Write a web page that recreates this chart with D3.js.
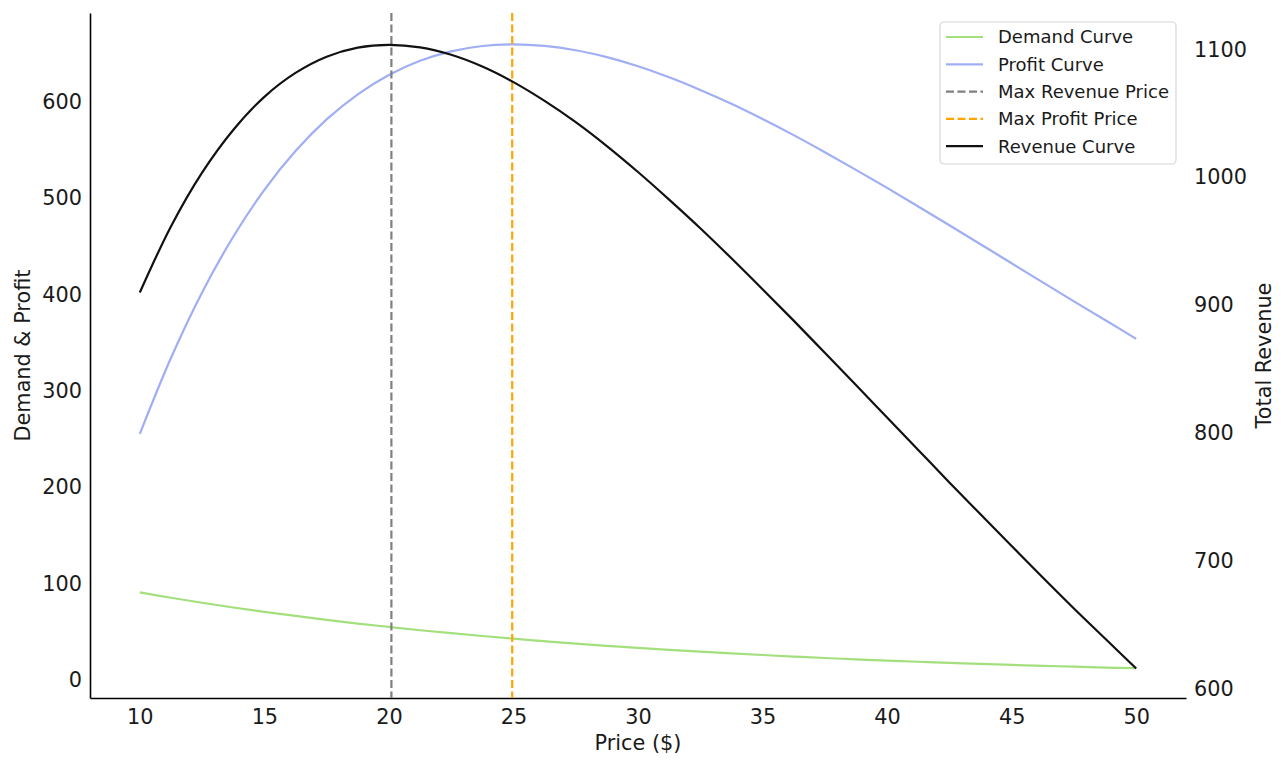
<!DOCTYPE html>
<html>
<head>
<meta charset="utf-8">
<script src="https://cdn.jsdelivr.net/npm/d3@7"></script>
<style>
  body { margin: 0; background: #fff; }
  text { font-family: "DejaVu Sans", sans-serif; fill: #1a1a1a; }
</style>
</head>
<body>
<svg id="chart"></svg>
<script>
// price points
const prices = [10, 11.25, 12.5, 13.75, 15, 16.25, 17.5, 18.75, 20, 21.25, 22.5, 23.75, 25, 26.25,
  27.5, 28.75, 30, 31.25, 32.5, 33.75, 35, 36.25, 37.5, 38.75, 40, 41.25, 42.5, 43.75, 45, 46.25,
  47.5, 48.75, 50];

// demand (left axis)
const demand = [91.0, 85.5, 80.3, 75.4, 70.9, 66.6, 62.5, 58.7, 55.2, 51.8, 48.7, 45.8, 43.0, 40.4,
  37.9, 35.6, 33.5, 31.4, 29.5, 27.8, 26.1, 24.5, 23.0, 21.6, 20.3, 19.1, 17.9, 16.8, 15.8, 14.9,
  14.0, 13.1, 12.4];

// profit (left axis)
const profit = [255.5, 334.2, 402.2, 459.9, 508.6, 548.8, 581.6, 607.7, 627.7, 642.4, 652.2, 657.8,
  659.5, 657.9, 653.4, 646.2, 636.8, 625.3, 612.2, 597.8, 582.0, 565.3, 547.6, 529.3, 510.6, 491.3,
  471.8, 452.2, 432.4, 412.6, 392.9, 373.6, 354.0];

// total revenue (right axis)
const revenue = [909.8, 961.5, 1003.6, 1037.0, 1062.9, 1081.6, 1094.3, 1101.4, 1103.6, 1101.6, 1095.8,
  1086.6, 1074.4, 1059.7, 1043.1, 1024.4, 1004.1, 982.5, 960.1, 936.6, 912.4, 887.8, 862.6, 837.4,
  812.0, 786.6, 761.2, 736.3, 711.5, 686.8, 662.6, 639.1, 615.6];

// vertical markers
const maxRevenuePrice = 20.1;
const maxProfitPrice = 24.95;

// tick values
const xTicks = [10, 15, 20, 25, 30, 35, 40, 45, 50];
const leftTicks = [0, 100, 200, 300, 400, 500, 600];
const rightTicks = [600, 700, 800, 900, 1000, 1100];

const width = 1288, height = 768;
const margin = { top: 13, right: 102, bottom: 70, left: 90 };

const svg = d3.select("#chart")
  .attr("width", width)
  .attr("height", height);

// scales
const x = d3.scaleLinear().domain([8, 52]).range([margin.left, width - margin.right]);
const yLeft = d3.scaleLinear().domain([-18.5, 692]).range([height - margin.bottom, margin.top]);
const yRight = d3.scaleLinear().domain([592.5, 1128.5]).range([height - margin.bottom, margin.top]);

const rows = prices.map((p, i) => ({ p, demand: demand[i], profit: profit[i], revenue: revenue[i] }));

// axes
const xAxis = svg.append("g")
  .attr("transform", `translate(0,${height - margin.bottom})`)
  .call(d3.axisBottom(x).tickValues(xTicks).tickSize(0).tickPadding(11));

const leftAxis = svg.append("g")
  .attr("transform", `translate(${margin.left},0)`)
  .call(d3.axisLeft(yLeft).tickValues(leftTicks).tickSize(0).tickPadding(8));

const rightAxis = svg.append("g")
  .attr("transform", `translate(${width - margin.right},0)`)
  .call(d3.axisRight(yRight).tickValues(rightTicks).tickFormat(d3.format("d")).tickSize(0).tickPadding(8));

[xAxis, leftAxis, rightAxis].forEach(g => {
  g.selectAll("text").style("font-size", "20.8px").attr("fill", "#1a1a1a");
  g.select(".domain").attr("stroke", "#000").attr("stroke-width", 1.6);
});
rightAxis.select(".domain").remove();

// axis labels
svg.append("text")
  .attr("x", (margin.left + width - margin.right) / 2)
  .attr("y", 750)
  .attr("text-anchor", "middle")
  .style("font-size", "20.8px")
  .text("Price ($)");

svg.append("text")
  .attr("transform", `translate(30,${(margin.top + height - margin.bottom) / 2}) rotate(-90)`)
  .attr("text-anchor", "middle")
  .style("font-size", "20.8px")
  .text("Demand & Profit");

svg.append("text")
  .attr("transform", `translate(1271,${(margin.top + height - margin.bottom) / 2}) rotate(-90)`)
  .attr("text-anchor", "middle")
  .style("font-size", "20.8px")
  .text("Total Revenue");

// lines
const curve = d3.curveCatmullRom;
const demandLine = d3.line().x(d => x(d.p)).y(d => yLeft(d.demand)).curve(curve);
const profitLine = d3.line().x(d => x(d.p)).y(d => yLeft(d.profit)).curve(curve);
const revenueLine = d3.line().x(d => x(d.p)).y(d => yRight(d.revenue)).curve(curve);

svg.append("path").datum(rows)
  .attr("d", demandLine)
  .attr("fill", "none").attr("stroke", "#a3e07d").attr("stroke-width", 2.2);

svg.append("path").datum(rows)
  .attr("d", profitLine)
  .attr("fill", "none").attr("stroke", "#a0aef3").attr("stroke-width", 2.2);

// vertical dashed markers
svg.append("line")
  .attr("x1", x(maxRevenuePrice)).attr("x2", x(maxRevenuePrice))
  .attr("y1", margin.top).attr("y2", height - margin.bottom)
  .attr("stroke", "#808080").attr("stroke-width", 2.2).attr("stroke-dasharray", "8,3.5");

svg.append("line")
  .attr("x1", x(maxProfitPrice)).attr("x2", x(maxProfitPrice))
  .attr("y1", margin.top).attr("y2", height - margin.bottom)
  .attr("stroke", "#ffa500").attr("stroke-width", 2.2).attr("stroke-dasharray", "8,3.5");

svg.append("path").datum(rows)
  .attr("d", revenueLine)
  .attr("fill", "none").attr("stroke", "#111").attr("stroke-width", 2.2);

// legend
const legendItems = [
  { label: "Demand Curve", color: "#a3e07d", dash: null },
  { label: "Profit Curve", color: "#a0aef3", dash: null },
  { label: "Max Revenue Price", color: "#808080", dash: "8,3.5" },
  { label: "Max Profit Price", color: "#ffa500", dash: "8,3.5" },
  { label: "Revenue Curve", color: "#111", dash: null }
];

const legend = svg.append("g").attr("transform", "translate(940,22)");
legend.append("rect")
  .attr("width", 236).attr("height", 142)
  .attr("rx", 4)
  .attr("fill", "#fff").attr("fill-opacity", 0.8)
  .attr("stroke", "#d6d6d6").attr("stroke-width", 1.2);

const item = legend.selectAll("g.item")
  .data(legendItems)
  .enter()
  .append("g")
  .attr("class", "item")
  .attr("transform", (d, i) => `translate(0,${15 + i * 27.3})`);

item.append("line")
  .attr("x1", 6).attr("x2", 43)
  .attr("stroke", d => d.color)
  .attr("stroke-width", 2.2)
  .attr("stroke-dasharray", d => d.dash);

item.append("text")
  .attr("x", 58)
  .attr("dy", "0.35em")
  .style("font-size", "18px")
  .text(d => d.label);
</script>
</body>
</html>
